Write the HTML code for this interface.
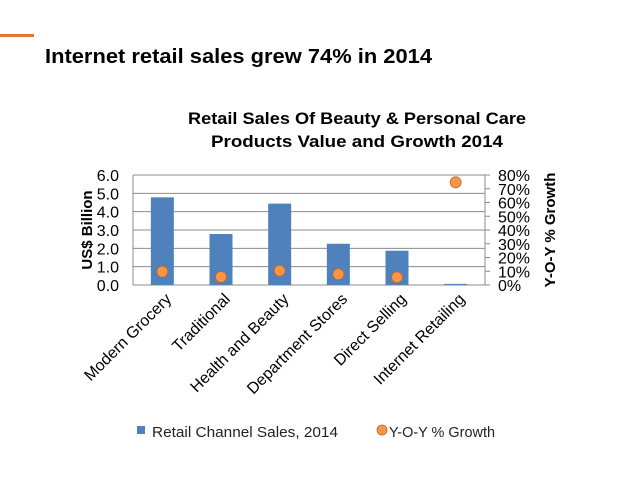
<!DOCTYPE html>
<html><head><meta charset="utf-8"><style>
html,body{margin:0;padding:0;background:#fff;}
svg{display:block;font-family:"Liberation Sans",sans-serif;}
</style></head><body>
<svg id="chart" width="638" height="479" viewBox="0 0 638 479">
<rect x="0" y="34" width="34" height="3" fill="#e8762d"/>
<text x="45" y="63" font-size="20" font-weight="bold" textLength="387" lengthAdjust="spacingAndGlyphs">Internet retail sales grew 74% in 2014</text>
<text x="357" y="124" font-size="17" font-weight="bold" text-anchor="middle" textLength="338" lengthAdjust="spacingAndGlyphs">Retail Sales Of Beauty &amp; Personal Care</text>
<text x="357" y="147" font-size="17" font-weight="bold" text-anchor="middle" textLength="292" lengthAdjust="spacingAndGlyphs">Products Value and Growth 2014</text>
<g id="grid"></g>
<g id="bars"></g>
<g id="dots"></g>
<g id="axes"></g>
<text transform="translate(92,230) rotate(-90)" font-size="15" font-weight="bold" text-anchor="middle">US$ Billion</text>
<text transform="translate(555,230) rotate(-90)" font-size="15" font-weight="bold" text-anchor="middle">Y-O-Y % Growth</text>
<g>
<rect x="137" y="426" width="8" height="8" fill="#4f81bd"/>
<text x="152" y="437" font-size="15" fill="#222" textLength="186" lengthAdjust="spacingAndGlyphs">Retail Channel Sales, 2014</text>
<circle cx="382" cy="430" r="5" fill="#f79646" stroke="#c0682a" stroke-width="0.8"/>
<text x="389" y="437" font-size="15" fill="#222" textLength="106" lengthAdjust="spacingAndGlyphs">Y-O-Y % Growth</text>
</g>
</svg>
<script>
const categories=["Modern Grocery","Traditional","Health and Beauty","Department Stores","Direct Selling","Internet Retailing"];
const sales=[4.78,2.78,4.44,2.25,1.87,0.06];
const growth=[9.7,5.8,10.4,7.8,5.6,74.7];
const leftTicks=["0.0","1.0","2.0","3.0","4.0","5.0","6.0"];
const rightTicks=["0%","10%","20%","30%","40%","50%","60%","70%","80%"];
const NS="http://www.w3.org/2000/svg";
const X0=133,X1=485,Y0=285,Y1=175;
const yL=v=>Y0-(v/6)*(Y0-Y1);
const yR=v=>Y0-(v/80)*(Y0-Y1);
const bw=(X1-X0)/categories.length;
const xC=i=>X0+bw*(i+0.5);
function mk(tag,attrs,parent){const e=document.createElementNS(NS,tag);for(const k in attrs)e.setAttribute(k,attrs[k]);document.getElementById(parent).appendChild(e);return e;}
leftTicks.forEach((t,i)=>{
  const y=yL(parseFloat(t));
  const g=mk("line",{x1:X0,x2:X1,y1:y,y2:y,stroke:"#8c8c8c","stroke-width":1},"grid");
  
  
  const tx=mk("text",{x:X0-14,y:y+6,"font-size":16,"text-anchor":"end"},"axes");
  tx.textContent=t;
  
  
});
rightTicks.forEach((t,i)=>{
  const y=yR(parseFloat(t));
  const tk=mk("line",{x1:X1,x2:X1+5,y1:y,y2:y,stroke:"#8c8c8c"},"axes");
  
  
  const tx=mk("text",{x:X1+13,y:y+6,"font-size":16},"axes");
  tx.textContent=t;
  
  
});
const la=mk("line",{x1:X0,x2:X0,y1:Y1,y2:Y0,stroke:"#8c8c8c"},"axes");


const ra=mk("line",{x1:X1,x2:X1,y1:Y1,y2:Y0,stroke:"#8c8c8c"},"axes");


sales.forEach((v,i)=>{
  const b=mk("rect",{x:xC(i)-11.5,y:yL(v),width:23,height:Y0-yL(v),fill:"#4f81bd"},"bars");
  
  
});
growth.forEach((v,i)=>{
  const c=mk("circle",{cx:xC(i),cy:yR(v),r:5.5,fill:"#f79646",stroke:"#c0682a","stroke-width":0.8},"dots");
  
  
});
categories.forEach((c,i)=>{
  const x=xC(i)+10,y=300;
  const t=mk("text",{x:x,y:y,"font-size":16,"text-anchor":"end",transform:`rotate(-45 ${x} ${y})`},"axes");
  t.textContent=c;
  
  
});
</script>
</body></html>
